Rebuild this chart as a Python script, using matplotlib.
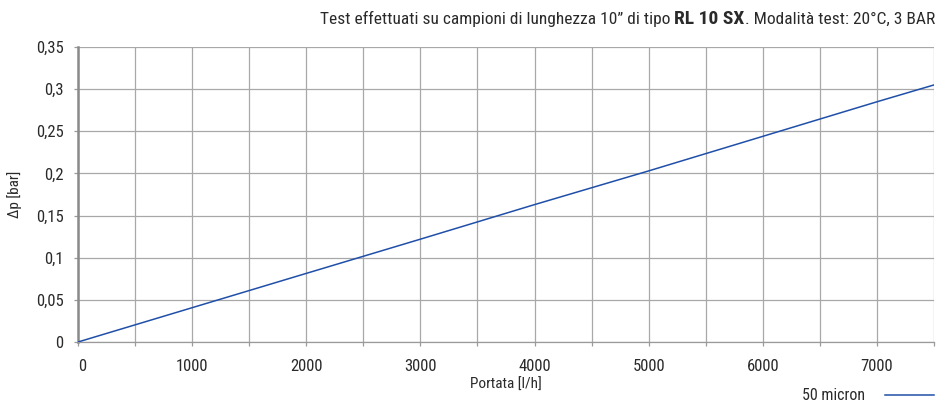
import matplotlib
matplotlib.use("Agg")
import matplotlib.pyplot as plt
from matplotlib.lines import Line2D

# Flow rate [l/h] and pressure drop [bar] for the 50 micron cartridge
flow = [0, 1000, 2000, 3000, 4000, 5000, 6000, 7000, 7500]
dp_50 = [0, 0.0407, 0.0814, 0.122, 0.163, 0.203, 0.244, 0.285, 0.305]

x_ticks = [0, 1000, 2000, 3000, 4000, 5000, 6000, 7000]
y_ticks = [0, 0.05, 0.1, 0.15, 0.2, 0.25, 0.3, 0.35]
y_labels = ["0", "0,05", "0,1", "0,15", "0,2", "0,25", "0,3", "0,35"]

plt.rcParams["font.family"] = ["Roboto Condensed", "DejaVu Sans"]

txt = "#2a2a2a"
W, H = 937, 401
fig = plt.figure(figsize=(W / 100, H / 100), dpi=100)
ax = fig.add_axes([78 / W, 1 - 342 / H, (934 - 78) / W, (342 - 47) / H])

ax.plot(flow, dp_50, color="#1f4fa8", lw=1.1, zorder=3)

ax.set_xlim(0, 7500)
ax.set_ylim(0, 0.35)
ax.set_xticks(range(0, 7501, 500))
ax.set_xticklabels([str(v) if v in x_ticks else "" for v in range(0, 7501, 500)])
ax.set_yticks(y_ticks)
ax.set_yticklabels(y_labels)
ax.grid(True, color="#a8a8a8", lw=0.9)
ax.set_axisbelow(True)
for s in ("top", "right"):
    ax.spines[s].set_visible(False)
ax.spines["bottom"].set_color("#9a9a9a")
ax.spines["bottom"].set_linewidth(0.9)
ax.spines["left"].set_color("#8a8a8a")
ax.spines["left"].set_linewidth(1.8)
ax.tick_params(axis="both", colors="#9a9a9a", labelcolor=txt, labelsize=12,
               length=3, width=0.9)
ax.tick_params(axis="x", pad=9)
ax.tick_params(axis="y", pad=7.5)
for lbl in ax.get_xticklabels()[:1]:
    lbl.set_horizontalalignment("left")

# axis titles
fig.text(506 / W, 1 - 385 / H, "Portata [l/h]", ha="center", va="center",
         fontsize=11, color=txt)
fig.text(15 / W, 1 - 194 / H, "Δp [bar]", ha="center", va="center", rotation=90,
         fontsize=11, color=txt)

# header line with bold filter model
fig.canvas.draw()
r = fig.canvas.get_renderer()
ytitle = 1 - 19 / H
t3 = fig.text(935 / W, ytitle, ". Modalità test: 20°C, 3 BAR", ha="right", va="center",
              fontsize=12.5, color=txt)
bb = t3.get_window_extent(r)
t2 = fig.text(bb.x0 / W, ytitle, "RL 10 SX", ha="right", va="center",
              fontsize=14, fontweight="bold", color=txt)
bb = t2.get_window_extent(r)
fig.text(bb.x0 / W - 4 / W, ytitle, "Test effettuati su campioni di lunghezza 10\u201d di tipo",
         ha="right", va="center", fontsize=12.5, color=txt)

# legend entry
fig.text(865 / W, 1 - 395 / H, "50 micron", ha="right", va="center", fontsize=11.5, color=txt)
fig.add_artist(Line2D([885 / W, 934 / W], [1 - 395 / H] * 2, color="#1f4fa8", lw=1.1,
                      transform=fig.transFigure))

fig.savefig("out.png", dpi=100)
